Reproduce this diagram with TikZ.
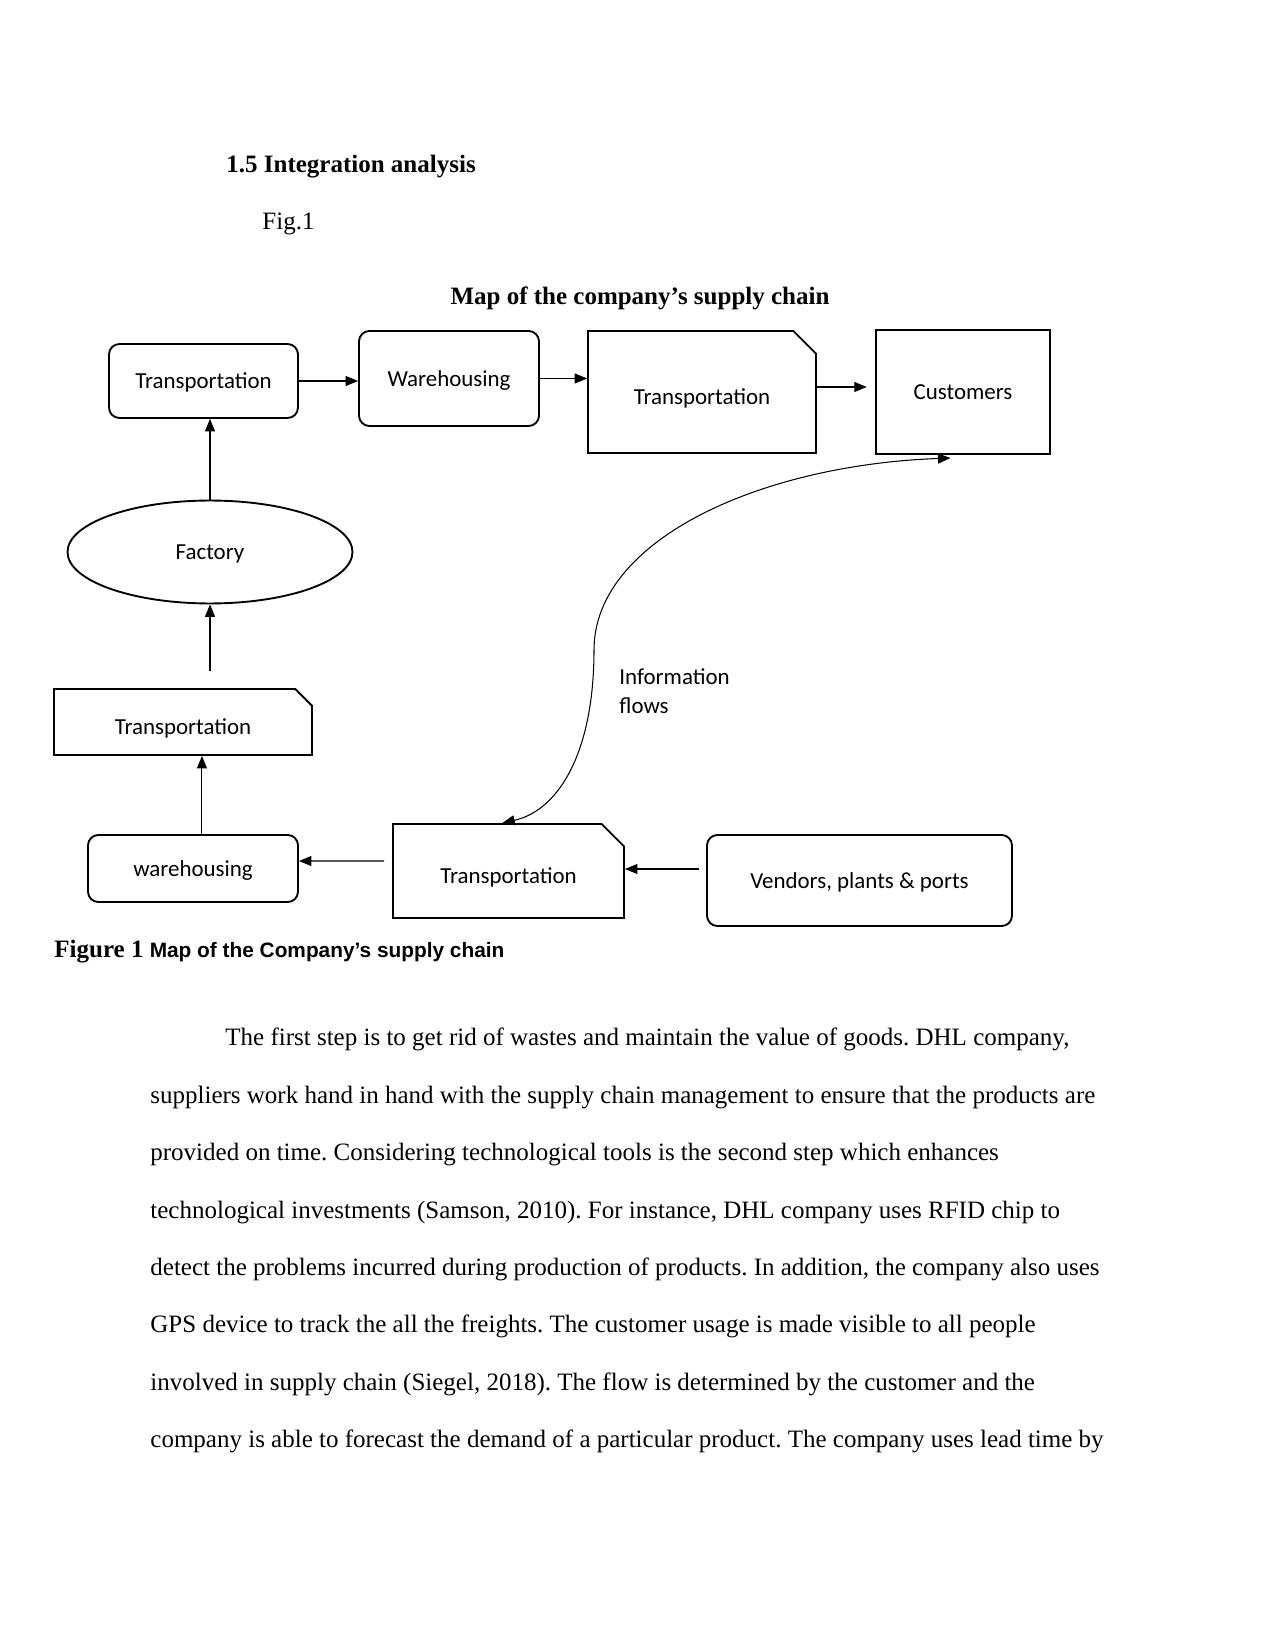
\documentclass[tikz,border=0pt]{standalone}
\usepackage{fontspec}
\setmainfont{Liberation Serif}
\newfontfamily\boxfont{Carlito}
\newfontfamily\capfont{Liberation Sans}
\usetikzlibrary{positioning, shapes.geometric, shapes.misc, arrows.meta}
\frenchspacing

\begin{document}
\begin{tikzpicture}[
  x=0.48pt, y=-0.48pt,
  stage/.style={
    draw, line width=0.9pt, inner sep=2pt, align=center, text depth=0pt,
    font=\boxfont\fontsize{11}{13}\selectfont
  },
  roundbox/.style={stage, rounded corners=5pt},
  squarebox/.style={stage, rectangle},
  snipbox/.style={stage, chamfered rectangle, chamfered rectangle corners=north east, text height=11.6pt},
  ovalbox/.style={stage, ellipse},
  flow/.style={-{Triangle[length=6pt,width=4.8pt]}, line width=0.5pt},
  infoflow/.style={{Triangle[length=6pt,width=4.8pt]}-{Triangle[length=6pt,width=4.8pt]}, line width=0.5pt},
  heading/.style={anchor=base west, inner sep=0pt, font=\bfseries\fontsize{12}{14}\selectfont},
  bodyline/.style={anchor=base west, inner sep=0pt, font=\fontsize{12}{14}\selectfont},
]
\useasboundingbox (0,0) rectangle (1275,1650);

% Heading lines above the map
\node[heading] (sec) at (226, 173) {1.5 Integration analysis};
\node[bodyline] (fig) at (262, 230) {Fig.1};
\node[heading, anchor=base] (title) at (640, 305) {Map of the company’s supply chain};

% Top row: outbound side of the chain
\node[roundbox, minimum width=90.7pt, minimum height=35.5pt] (trA) at (203.5, 381) {Transportation};
\node[roundbox, minimum width=86.4pt, minimum height=45.6pt] (whA) at (449, 378.5) {Warehousing};
\node[snipbox, minimum width=109.4pt, minimum height=58.6pt, chamfered rectangle xsep=9.6pt] (trB) at (702, 392) {Transportation};
\node[squarebox, minimum width=83.5pt, minimum height=59.5pt] (cust) at (963, 392) {Customers};

% Left column: inbound side
\node[ovalbox, minimum width=136.8pt, minimum height=49.4pt] (fact) at (210, 552) {Factory};
\node[snipbox, minimum width=123.8pt, minimum height=31.7pt, chamfered rectangle xsep=5pt] (trC) at (183, 722) {Transportation};

% Bottom row: sources
\node[roundbox, minimum width=100.8pt, minimum height=32.2pt] (whB) at (193, 868.5) {warehousing};
\node[snipbox, minimum width=110.9pt, minimum height=45.1pt, chamfered rectangle xsep=7.7pt] (trD) at (508.5, 871) {Transportation};
\node[roundbox, minimum width=146.4pt, minimum height=43.7pt] (vend) at (859.5, 880.5) {Vendors, plants \& ports};

% Label of the information curve
\node[anchor=north west, inner sep=0pt, align=left, font=\boxfont\fontsize{11}{14}\selectfont] (info) at (619, 668) {Information\\flows};

% Material flows
\draw[flow, shorten <=3.4pt] (vend.west) ++(0,-11.5) -- (trD.east |- 0,869) ;
\draw[flow] ([yshift=4.8pt]trD.west) ++(-8,0) -- (whB.east |- 0,861);
\draw[flow] ([xshift=4.3pt]whB.north) -- ([xshift=4.3pt]whB.north |- trC.south);
\draw[flow, shorten <=8pt] (fact.south |- trC.north) -- (fact.south);
\draw[flow] (fact.north) -- (fact.north |- trA.south);
\draw[flow] (trA.east) -- (trA.east -| whA.west);
\draw[flow] (whA.east) -- (whA.east -| trB.west);
\draw[flow, shorten >=4pt] ([yshift=2.4pt]trB.east) -- ([yshift=2.4pt]trB.east -| cust.west);

% Information flow back and forth
\coordinate (bend) at (594, 650);
\draw[infoflow] ([xshift=-3pt]trD.north) .. controls (560, 810) and (594, 750) .. (bend)
  .. controls (594, 540) and (760, 465) .. ([xshift=-6pt, yshift=-1.5pt]cust.south);

% Caption
\node[heading] (cap) at (54, 957) {Figure 1 {\capfont\fontsize{10}{12}\selectfont Map of the Company’s supply chain}};

% Body text
\node[bodyline] (body1) at (225, 1045) {The first step is to get rid of wastes and maintain the value of goods. DHL company,};
\node[bodyline] (body2) at (150, 1103) {suppliers work hand in hand with the supply chain management to ensure that the products are};
\node[bodyline] (body3) at (150, 1160) {provided on time. Considering technological tools is the second step which enhances};
\node[bodyline] (body4) at (150, 1218) {technological investments (Samson, 2010). For instance, DHL company uses RFID chip to};
\node[bodyline] (body5) at (150, 1275) {detect the problems incurred during production of products. In addition, the company also uses};
\node[bodyline] (body6) at (150, 1332) {GPS device to track the all the freights. The customer usage is made visible to all people};
\node[bodyline] (body7) at (150, 1390) {involved in supply chain (Siegel, 2018). The flow is determined by the customer and the};
\node[bodyline] (body8) at (150, 1447) {company is able to forecast the demand of a particular product. The company uses lead time by};

\end{tikzpicture}
\end{document}
